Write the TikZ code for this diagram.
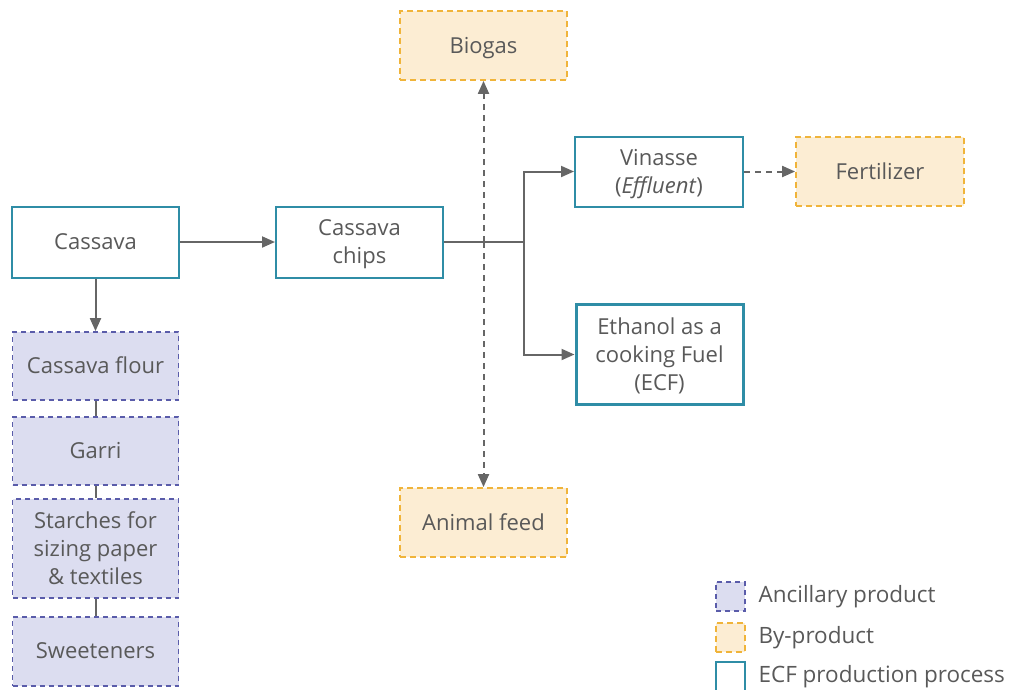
\documentclass[tikz,border=0pt]{standalone}
\usepackage{fontspec}
\setmainfont{Open Sans}
\usetikzlibrary{arrows.meta,positioning}
\definecolor{ecfteal}{HTML}{2F8DA6}
\definecolor{ancfill}{HTML}{DCDDF0}
\definecolor{ancline}{HTML}{5A5CAA}
\definecolor{byfill}{HTML}{FCEDD3}
\definecolor{byline}{HTML}{F0B43A}
\definecolor{txtgray}{HTML}{595959}
\definecolor{linegray}{HTML}{666666}
\tikzset{
  box/.style={draw, rectangle, minimum width=167pt, align=center, text=txtgray,
    font=\fontsize{22}{28}\selectfont, inner sep=2pt, text depth=1pt},
  process/.style={box, draw=ecfteal, line width=2pt, fill=white},
  ancillary/.style={box, draw=ancline, fill=ancfill, line width=1.8pt,
    dash pattern=on 5pt off 4pt, minimum width=166pt},
  byproduct/.style={box, draw=byline, fill=byfill, line width=1.8pt,
    dash pattern=on 6pt off 4pt, minimum height=69pt},
  flow/.style={draw=linegray, line width=2pt, -{Triangle[length=13pt,width=11pt]}},
  dashflow/.style={flow, dash pattern=on 6pt off 5pt},
  link/.style={draw=linegray, line width=2pt},
  legendtext/.style={anchor=west, text=txtgray, font=\fontsize{22.5}{27}\selectfont}
}
\begin{document}
\begin{tikzpicture}[x=1pt,y=-1pt]
    \useasboundingbox (0,0) rectangle (1009,689);
    % main ECF chain
    \node[process, minimum height=71pt] (cassava) at (95.5,242) {Cassava};
    \node[process, minimum height=71pt] (chips) at (359.5,242) {Cassava\\chips};
    \node[process, minimum width=168pt, minimum height=70pt] (vinasse) at (659,171.5) {Vinasse\\(\textit{Effluent})};
    \node[process, line width=3pt, minimum height=100pt] (ethanol) at (659.5,354.5) {Ethanol as a\\cooking Fuel\\(ECF)};
    % by-products
    \node[byproduct] (biogas) at (483.5,45.5) {Biogas};
    \node[byproduct] (feed) at (483.5,522.5) {Animal feed};
    \node[byproduct, minimum width=168pt] (fertilizer) at (880,171.5) {Fertilizer};
    % ancillary products
    \node[ancillary, minimum height=68pt] (flour) at (95.5,366) {Cassava flour};
    \node[ancillary, minimum height=68pt] (garri) at (95.5,451) {Garri};
    \node[ancillary, minimum height=99pt] (starches) at (95.5,548.5) {Starches for\\sizing paper\\\& textiles};
    \node[ancillary, minimum height=69pt] (sweeteners) at (95.5,651.5) {Sweeteners};
    % connectors
    \coordinate (split) at (524,242);
    \coordinate (fork) at (483.5,242);
    \path[flow] (cassava) -- (flour);
    \path[flow] (cassava) -- (chips);
    \path[link] (chips.east) -- (split);
    \path[flow] (split) |- (vinasse.west);
    \path[flow] (split) |- (ethanol.west);
    \path[dashflow] (fork) -- (biogas);
    \path[dashflow] (fork) -- (feed);
    \path[dashflow] (vinasse) -- (fertilizer);
    \path[link] (flour) -- (garri);
    \path[link] (garri) -- (starches);
    \path[link] (starches) -- (sweeteners);
    % legend
    \node[ancillary, minimum width=29pt, minimum height=29pt, line width=1.5pt] (legA) at (730.5,596.5) {};
    \node[byproduct, minimum width=29pt, minimum height=29pt, line width=1.5pt] (legB) at (730.5,637.5) {};
    \node[process, minimum width=29pt, minimum height=29pt, line width=1.5pt] (legC) at (730.5,676.5) {};
    \node[legendtext] at (755,597) {Ancillary product};
    \node[legendtext] at (755,638) {By-product};
    \node[legendtext] at (755,677) {ECF production process};
\end{tikzpicture}
\end{document}
